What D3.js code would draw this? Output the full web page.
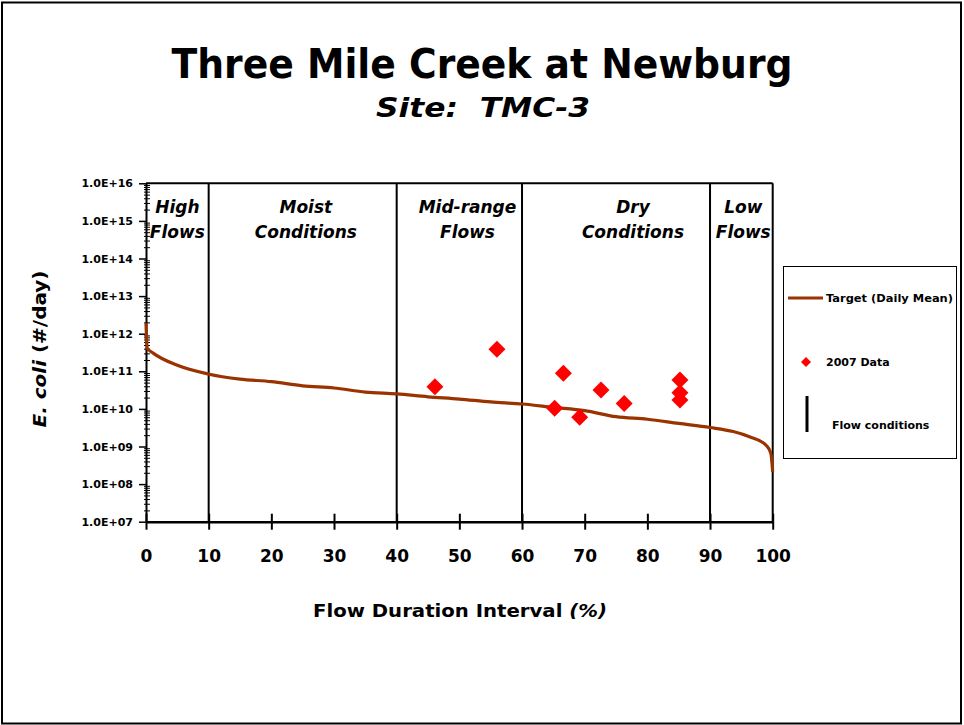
<!DOCTYPE html>
<html>
<head>
<meta charset="utf-8">
<script src="https://cdn.jsdelivr.net/npm/d3@7"></script>
<style>
    body { margin: 0; background: #fff; }
    text { font-family: "Comic Sans MS", "DejaVu Sans", sans-serif; font-weight: bold; fill: #000; }
</style>
</head>
<body>
<div id="chart"></div>
<script>
// target load duration curve (daily mean)
var targetFlow = [0, 0.2, 1.2, 4.9, 9.9, 15, 20, 25, 30, 35, 40, 45, 50, 55, 60, 65, 70, 75, 80, 85, 90, 93.7, 96.4, 98.2, 98.9, 99.7, 100];
var targetLoad = [1.9e12, 4.1e11, 3.0e11, 1.47e11, 8.5e10, 6.2e10, 5.3e10, 4.1e10, 3.6e10, 2.8e10, 2.5e10, 2.1e10, 1.83e10, 1.53e10, 1.35e10, 1.1e10, 9.0e9, 6.2e9, 5.3e9, 4.1e9, 3.2e9, 2.5e9, 1.8e9, 1.34e9, 1.1e9, 6.6e8, 2.1e8];

// 2007 samples
var sampleFlow = [46.1, 56.0, 65.2, 66.6, 69.2, 72.6, 76.3, 85.2, 85.2, 85.2];
var sampleLoad = [3.9e10, 3.85e11, 1.04e10, 8.9e10, 6.0e9, 3.2e10, 1.4e10, 5.9e10, 2.7e10, 1.73e10];

// flow condition zones
var zoneBreaks = [10, 40, 60, 90, 100];
var zoneLine1 = ["High", "Moist", "Mid-range", "Dry", "Low"];
var zoneLine2 = ["Flows", "Conditions", "Flows", "Conditions", "Flows"];
var zoneLabelAt = [5, 25.5, 51.3, 77.7, 95.3];

var xTicks = [0, 10, 20, 30, 40, 50, 60, 70, 80, 90, 100];
var yTicks = [1e7, 1e8, 1e9, 1e10, 1e11, 1e12, 1e13, 1e14, 1e15, 1e16];

var W = 964, H = 725;
var plotL = 146, plotR = 772.7, plotT = 183.3, plotB = 521.7;

var svg = d3.select("#chart").append("svg")
    .attr("width", W)
    .attr("height", H);

// outer frame
svg.append("rect")
    .attr("x", 2).attr("y", 2.5)
    .attr("width", 959).attr("height", 721)
    .attr("fill", "none").attr("stroke", "#000").attr("stroke-width", 2);

var x = d3.scaleLinear().domain([0, 100]).range([plotL, plotR]);
var y = d3.scaleLog().domain([1e7, 1e16]).range([plotB, plotT]);

// titles
svg.append("text")
    .attr("x", 482).attr("y", 78)
    .attr("text-anchor", "middle")
    .style("font-size", "40px")
    .attr("textLength", 621).attr("lengthAdjust", "spacingAndGlyphs")
    .text("Three Mile Creek at Newburg");

svg.append("text")
    .attr("x", 483).attr("y", 117)
    .attr("text-anchor", "middle")
    .style("font-size", "27px").style("font-style", "italic")
    .attr("textLength", 214).attr("lengthAdjust", "spacingAndGlyphs")
    .attr("xml:space", "preserve")
    .text("Site:  TMC-3");

// top border of plot
svg.append("line")
    .attr("x1", x(0)).attr("x2", x(100))
    .attr("y1", plotT).attr("y2", plotT)
    .attr("stroke", "#000").attr("stroke-width", 2);

// zone lines
svg.selectAll("line.zone")
    .data(zoneBreaks)
    .enter().append("line")
    .attr("class", "zone")
    .attr("x1", function (d) { return x(d); })
    .attr("x2", function (d) { return x(d); })
    .attr("y1", plotT).attr("y2", plotB)
    .attr("stroke", "#000").attr("stroke-width", 2);

// zone labels
var zl = svg.selectAll("text.zone")
    .data(zoneLine1)
    .enter().append("text")
    .attr("class", "zone")
    .attr("text-anchor", "middle")
    .style("font-size", "17px").style("font-style", "italic");
zl.append("tspan")
    .attr("x", function (d, i) { return x(zoneLabelAt[i]); })
    .attr("y", 213)
    .text(function (d) { return d; });
zl.append("tspan")
    .attr("x", function (d, i) { return x(zoneLabelAt[i]); })
    .attr("y", 238)
    .text(function (d, i) { return zoneLine2[i]; });

// y axis: minor ticks then majors
var minor = [];
for (var e = 7; e < 16; e++) {
    for (var m = 2; m <= 9; m++) minor.push(m * Math.pow(10, e));
}
svg.append("g")
    .attr("transform", "translate(" + plotL + ",0)")
    .call(d3.axisRight(y).tickValues(minor).tickSize(4).tickFormat(""))
    .call(function (g) { g.select(".domain").remove(); });
svg.append("g")
    .attr("transform", "translate(" + plotL + ",0)")
    .call(d3.axisLeft(y).tickValues(minor).tickSize(2).tickFormat(""))
    .call(function (g) { g.select(".domain").remove(); });

var yAxis = svg.append("g")
    .attr("transform", "translate(" + plotL + ",0)")
    .call(d3.axisLeft(y).tickValues(yTicks).tickSizeInner(7).tickSizeOuter(0)
        .tickPadding(6)
        .tickFormat(function (d) { return "1.0E+" + d3.format("02d")(Math.round(Math.log10(d))); }));
yAxis.select(".domain").attr("stroke-width", 2);
yAxis.selectAll(".tick line").attr("stroke-width", 1.5);
yAxis.selectAll("text")
    .style("font-family", "\"Comic Sans MS\", \"DejaVu Sans\", sans-serif")
    .style("font-weight", "bold")
    .style("font-size", "11px");

// x axis
var xAxis = svg.append("g")
    .attr("transform", "translate(0," + plotB + ")")
    .call(d3.axisBottom(x).tickValues(xTicks).tickSizeInner(8).tickSizeOuter(0).tickPadding(20));
xAxis.select(".domain").attr("stroke-width", 2.5);
xAxis.selectAll(".tick line").attr("stroke-width", 2);
xAxis.selectAll("text")
    .style("font-family", "\"Comic Sans MS\", \"DejaVu Sans\", sans-serif")
    .style("font-weight", "bold")
    .style("font-size", "17px");
svg.append("g")
    .attr("transform", "translate(0," + plotB + ")")
    .call(d3.axisTop(x).tickValues(xTicks).tickSize(8).tickFormat(""))
    .call(function (g) {
        g.select(".domain").remove();
        g.selectAll(".tick line").attr("stroke-width", 2);
    });

// axis titles
var xt = svg.append("text")
    .attr("x", 460).attr("y", 617)
    .attr("text-anchor", "middle")
    .style("font-size", "18px")
    .attr("textLength", 294).attr("lengthAdjust", "spacingAndGlyphs")
    .attr("xml:space", "preserve");
xt.append("tspan").text("Flow Duration Interval ");
xt.append("tspan").style("font-style", "italic").text("(%)");

var yt = svg.append("text")
    .attr("transform", "translate(46,349) rotate(-90)")
    .attr("text-anchor", "middle")
    .style("font-size", "18px")
    .attr("textLength", 157).attr("lengthAdjust", "spacingAndGlyphs")
    .attr("xml:space", "preserve");
yt.append("tspan").style("font-style", "italic").text("E. coli");
yt.append("tspan").text(" (#/day)");

// target curve
var line = d3.line()
    .x(function (d) { return x(d[0]); })
    .y(function (d) { return y(d[1]); })
    .curve(d3.curveMonotoneX);
svg.append("path")
    .datum(d3.zip(targetFlow, targetLoad))
    .attr("d", line)
    .attr("fill", "none")
    .attr("stroke", "#993300")
    .attr("stroke-width", 3.2);

// samples
var diamond = d3.symbol().type(d3.symbolSquare).size(144);
svg.selectAll("path.pt")
    .data(d3.zip(sampleFlow, sampleLoad))
    .enter().append("path")
    .attr("class", "pt")
    .attr("d", diamond)
    .attr("transform", function (d) { return "translate(" + x(d[0]) + "," + y(d[1]) + ") rotate(45)"; })
    .attr("fill", "#ff0000");

// legend
var lg = svg.append("g");
lg.append("rect")
    .attr("x", 783.5).attr("y", 266.5)
    .attr("width", 173).attr("height", 192)
    .attr("fill", "#fff").attr("stroke", "#000").attr("stroke-width", 1);
lg.append("line")
    .attr("x1", 788).attr("x2", 823).attr("y1", 298).attr("y2", 298)
    .attr("stroke", "#993300").attr("stroke-width", 3.2);
lg.append("text").attr("x", 826).attr("y", 302)
    .style("font-size", "10.5px")
    .attr("textLength", 127).attr("lengthAdjust", "spacingAndGlyphs")
    .text("Target (Daily Mean)");
lg.append("path")
    .attr("d", d3.symbol().type(d3.symbolSquare).size(50))
    .attr("transform", "translate(806,362) rotate(45)")
    .attr("fill", "#ff0000");
lg.append("text").attr("x", 826).attr("y", 366)
    .style("font-size", "11px")
    .text("2007 Data");
lg.append("line")
    .attr("x1", 807).attr("x2", 807).attr("y1", 396).attr("y2", 432)
    .attr("stroke", "#000").attr("stroke-width", 3);
lg.append("text").attr("x", 832).attr("y", 429)
    .style("font-size", "11px")
    .text("Flow conditions");
</script>
</body>
</html>
